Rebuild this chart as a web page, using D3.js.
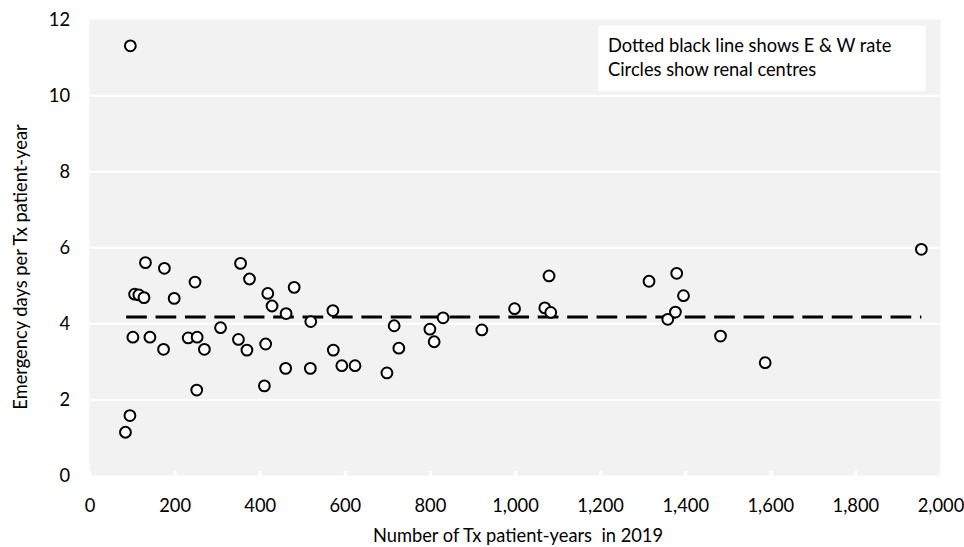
<!DOCTYPE html>
<html>
<head>
<meta charset="utf-8">
<script src="https://cdn.jsdelivr.net/npm/d3@7"></script>
<style>
  html, body { margin: 0; padding: 0; background: #ffffff; }
  svg { display: block; }
  text { font-family: Lato, "Open Sans", sans-serif; fill: #000; white-space: pre; }
</style>
</head>
<body>
<svg id="chart" width="964" height="547"></svg>
<script>
// Renal centres: number of Tx patient-years in 2019 (x) and emergency days per Tx patient-year (y)
const patientYears = [84.5, 95, 96, 102, 106, 116, 128, 131.5, 142, 174, 176, 199, 232, 248, 252, 253, 270, 308, 350, 355,
  370, 376, 411, 414, 419, 429, 461, 462, 481, 519, 520, 572, 573, 593, 624, 699, 716, 727, 800, 810,
  831, 922, 999, 1070, 1080, 1084, 1315, 1359, 1377, 1380, 1396, 1483, 1588, 1955];
const emergencyDays = [1.15, 1.59, 11.31, 3.65, 4.78, 4.76, 4.69, 5.61, 3.65, 3.33, 5.46, 4.67, 3.63, 5.10, 2.26, 3.65, 3.33, 3.90, 3.59, 5.59,
  3.31, 5.18, 2.37, 3.47, 4.80, 4.47, 2.83, 4.27, 4.96, 2.83, 4.06, 4.35, 3.31, 2.90, 2.90, 2.71, 3.95, 3.36, 3.86, 3.53,
  4.16, 3.84, 4.40, 4.42, 5.26, 4.30, 5.12, 4.12, 4.31, 5.33, 4.74, 3.68, 2.98, 5.96];
const ewRate = 4.18;
const xTicks = [0, 200, 400, 600, 800, 1000, 1200, 1400, 1600, 1800, 2000];
const yTicks = [0, 2, 4, 6, 8, 10, 12];
const legendLines = ["Dotted black line shows E & W rate", "Circles show renal centres"];
const xTitle = "Number of Tx patient-years  in 2019";
const yTitle = "Emergency days per Tx patient-year";

const FS = 18.3;
const svg = d3.select("#chart");
const x = d3.scaleLinear().domain([0, 2000]).range([89.5, 940.5]);
const y = d3.scaleLinear().domain([0, 12]).range([476, 19.6]);

// plot background
svg.append("rect")
  .attr("x", x(0)).attr("y", y(12))
  .attr("width", x(2000) - x(0)).attr("height", y(0) - y(12))
  .attr("fill", "#f2f2f2");

// gridlines
svg.append("g").selectAll("line").data(yTicks.filter(d => d > 0 && d < 12)).join("line")
  .attr("x1", x(0)).attr("x2", x(2000))
  .attr("y1", d => y(d)).attr("y2", d => y(d))
  .attr("stroke", "#ffffff").attr("stroke-width", 2);

// x axis (white line with upward white ticks)
const xAxis = d3.axisBottom(x).tickValues(xTicks).tickSize(0).tickPadding(0)
  .tickFormat(d3.format(","));
const gx = svg.append("g").attr("transform", `translate(0,${y(0)})`).call(xAxis);
gx.select(".domain").attr("stroke", "#ffffff").attr("stroke-width", 2);
gx.selectAll(".tick line").attr("y2", -5).attr("stroke", "#ffffff").attr("stroke-width", 3);
gx.selectAll(".tick text").attr("y", 36).attr("dy", null)
  .attr("font-size", FS).attr("font-family", "Lato, sans-serif").attr("fill", "#000");

// y axis labels
const yAxis = d3.axisLeft(y).tickValues(yTicks).tickSize(0).tickPadding(0);
const gy = svg.append("g").attr("transform", "translate(70,0)").call(yAxis);
gy.select(".domain").remove();
gy.selectAll(".tick text").attr("x", 0).attr("dy", "0.32em")
  .attr("font-size", FS).attr("font-family", "Lato, sans-serif").attr("fill", "#000");

// E & W rate dashed line
const xr = d3.extent(patientYears);
svg.append("line")
  .attr("x1", x(xr[0]) + 0.7).attr("x2", x(xr[1]))
  .attr("y1", y(ewRate)).attr("y2", y(ewRate))
  .attr("stroke", "#000").attr("stroke-width", 3)
  .attr("stroke-dasharray", "20.7,8.7");

// circles
svg.append("g").selectAll("circle").data(patientYears.map((d, i) => [d, emergencyDays[i]])).join("circle")
  .attr("cx", d => x(d[0])).attr("cy", d => y(d[1])).attr("r", 5.4)
  .attr("fill", "#ffffff").attr("stroke", "#000").attr("stroke-width", 2);

// legend box
const lg = svg.append("g");
lg.append("rect").attr("x", 598.3).attr("y", 25.7).attr("width", 327.4).attr("height", 65.3).attr("fill", "#ffffff");
lg.selectAll("text").data(legendLines).join("text")
  .attr("x", 608).attr("y", (d, i) => 52 + i * 24)
  .attr("font-size", FS).text(d => d);

// axis titles
svg.append("text").attr("x", 518).attr("y", 541.5).attr("text-anchor", "middle")
  .attr("font-size", FS).text(xTitle);
svg.append("text").attr("transform", `translate(26.5,267) rotate(-90)`)
  .attr("text-anchor", "middle").attr("font-size", FS).text(yTitle);
</script>
</body>
</html>
